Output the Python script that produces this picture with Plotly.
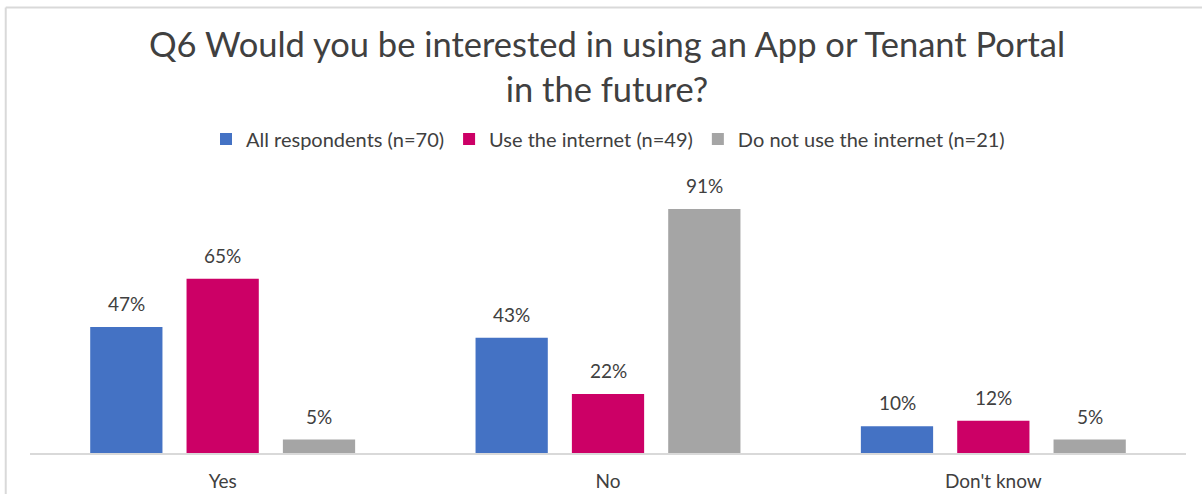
import plotly.graph_objects as go

# Survey answers and the share of each group that gave them (%)
categories = ["Yes", "No", "Don't know"]
series_names = [
    "All respondents (n=70)",
    "Use the internet (n=49)",
    "Do not use the internet (n=21)",
]
all_respondents = [47, 43, 10]
use_internet = [65, 22, 12]
no_internet = [5, 91, 5]

colors = ["#4472C4", "#CC0066", "#A5A5A5"]
text_color = "#404040"
font_family = "Century Gothic, Lato, sans-serif"

BARGAP = 0.25
series_values = [all_respondents, use_internet, no_internet]
n_series = len(series_values)
slot = (1 - BARGAP) / n_series  # width of one bar slot in category units

fig = go.Figure()
annotations = []
for k, (name, values, color) in enumerate(zip(series_names, series_values, colors)):
    fig.add_trace(go.Bar(
        x=categories,
        y=values,
        name=name,
        marker=dict(color=color, line=dict(width=0)),
    ))
    # value labels sitting above each bar
    offset = (k - (n_series - 1) / 2) * slot
    for i, v in enumerate(values):
        annotations.append(dict(
            x=i + offset, y=v, xref="x", yref="y",
            text=f"{v}%", showarrow=False,
            yanchor="bottom", yshift=10,
            font=dict(size=19, color=text_color, family=font_family),
        ))

fig.update_layout(
    width=1202,
    height=494,
    margin=dict(l=30, r=16, t=185, b=41),
    paper_bgcolor="white",
    plot_bgcolor="white",
    barmode="group",
    bargap=BARGAP,
    bargroupgap=0.25,
    font=dict(family=font_family, color=text_color),
    title=dict(
        text="Q6 Would you be interested in using an App or Tenant Portal<br>in the future?",
        x=0.505,
        xanchor="center",
        y=0.885,
        yanchor="middle",
        font=dict(size=34.5, color=text_color, family=font_family),
    ),
    legend=dict(
        orientation="h",
        x=0.5,
        xanchor="center",
        y=1.172,
        yanchor="middle",
        font=dict(size=20, color=text_color, family=font_family),
        itemwidth=30,
        traceorder="normal",
    ),
    xaxis=dict(
        automargin=False,
        showline=True,
        linecolor="#D9D9D9",
        linewidth=2,
        ticks="outside",
        ticklen=10,
        tickcolor="rgba(0,0,0,0)",
        tickfont=dict(size=19, color=text_color, family=font_family),
        showgrid=False,
    ),
    yaxis=dict(
        automargin=False,
        range=[0, 100],
        visible=False,
        showgrid=False,
        zeroline=False,
    ),
    annotations=annotations,
    shapes=[
        # chart frame: top and left edges
        dict(type="line", xref="paper", yref="paper",
             x0=-0.021, x1=1.02, y0=1.662, y1=1.662,
             line=dict(color="#D9D9D9", width=2)),
        dict(type="line", xref="paper", yref="paper",
             x0=-0.021, x1=-0.021, y0=-0.2, y1=1.662,
             line=dict(color="#D9D9D9", width=2)),
    ],
)

fig.write_html("out.html")
